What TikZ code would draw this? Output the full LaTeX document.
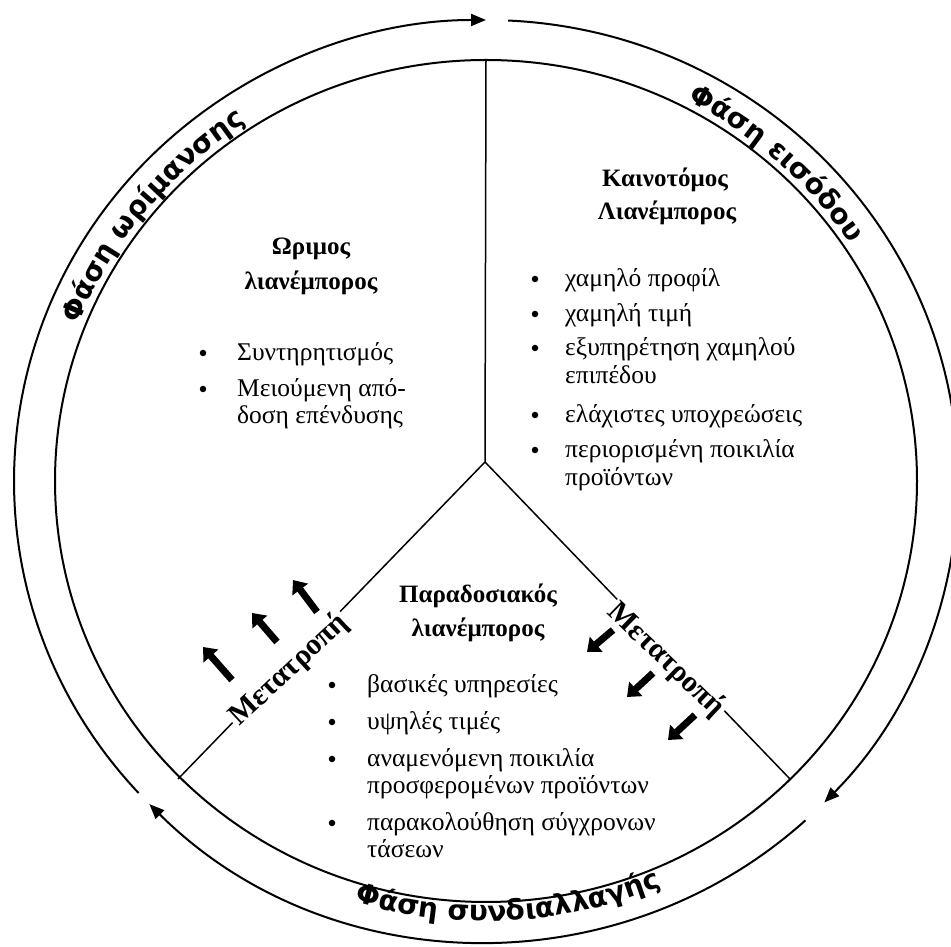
\documentclass[tikz,border=0pt]{standalone}
\usepackage{fontspec}
\setmainfont{Liberation Serif}
\newfontfamily\ringfont{DejaVu Sans}
\usetikzlibrary{arrows.meta,decorations.text}
\newcommand\ringstyle{\ringfont\bfseries\fontsize{28}{30}\selectfont}
\begin{document}
\begin{tikzpicture}[x=1pt,y=1pt,
  ring/.style={line width=2pt, -{Triangle[length=15pt,width=12pt]}},
  spoke/.style={line width=1.5pt},
  body/.style={font=\fontsize{25.5}{28}\selectfont, anchor=base west, inner sep=0pt},
  head/.style={font=\bfseries\fontsize{25}{28}\selectfont, anchor=base, inner sep=0pt},
  dot/.style={circle, fill=black, inner sep=0pt, minimum size=6.5pt},
  conv/.style={font=\bfseries\fontsize{30}{32}\selectfont, fill=white, inner sep=2pt},
  fat/.style={line width=7pt, -{Triangle[length=12pt,width=19pt]}},
  ringtext/.style={decorate, decoration={text along path, text align=center, text={|\ringstyle|#1}}}
]
\useasboundingbox (0,0) rectangle (951,947);
\coordinate (C) at (486,466);
\coordinate (M) at (485,485);
\coordinate (T) at (486,887);
\coordinate (LL) at (178,168);
\coordinate (LR) at (790,168);

% inner circle and spokes
\draw[line width=2pt] (C) ellipse [x radius=431pt, y radius=421pt];
\draw[spoke] (M) -- (T);
\draw[spoke] (M) -- (LL);
\draw[spoke] (M) -- (LR);

% outer ring arcs with arrows
\draw[ring] ([shift={(87.3:472pt and 461pt)}]C) arc[start angle=87.3, end angle=-44.2, x radius=472pt, y radius=461pt];
\draw[ring] ([shift={(-47.4:472pt and 461pt)}]C) arc[start angle=-47.4, end angle=-135.5, x radius=472pt, y radius=461pt];
\draw[ring] ([shift={(222.6:472pt and 461pt)}]C) arc[start angle=222.6, end angle=90, x radius=472pt, y radius=461pt];

% ring texts
\path[ringtext={Φάση εισόδου}] ([shift={(82:438pt and 428pt)}]C) arc[start angle=82, end angle=14, x radius=438pt, y radius=428pt];
\path[ringtext={Φάση ωρίμανσης}] ([shift={(175:438pt and 428pt)}]C) arc[start angle=175, end angle=107, x radius=438pt, y radius=428pt];
\path[ringtext={Φάση συνδιαλλαγής}] ([shift={(-121:451pt and 440pt)}]C) arc[start angle=-121, end angle=-53, x radius=451pt, y radius=440pt];

% top right block
\node[head] (kh1) at (665,760) {Καινοτόμος};
\node[head] (kh2) at (667,727) {Λιανέμπορος};
\node[body] (k1) at (565,660) {χαμηλό προφίλ};
\node[body] (k2) at (565,625) {χαμηλή τιμή};
\node[body] (k3) at (565,591) {εξυπηρέτηση χαμηλού};
\node[body] (k3b) at (565,563) {επιπέδου};
\node[body] (k4) at (565,524) {ελάχιστες υποχρεώσεις};
\node[body] (k5) at (565,489) {περιορισμένη ποικιλία};
\node[body] (k5b) at (565,461) {προϊόντων};
\node[dot] (kb1) at (535,668) {};
\node[dot] (kb2) at (535,633) {};
\node[dot] (kb3) at (535,599) {};
\node[dot] (kb4) at (535,532) {};
\node[dot] (kb5) at (535,497) {};

% top left block
\node[head] (wh1) at (311,692) {Ωριμος};
\node[head] (wh2) at (311,657) {λιανέμπορος};
\node[body] (w1) at (237,586) {Συντηρητισμός};
\node[body] (w2) at (237,550) {Μειούμενη από-};
\node[body] (w2b) at (237,523) {δοση επένδυσης};
\node[dot] (wb1) at (203,594) {};
\node[dot] (wb2) at (203,558) {};

% bottom block
\node[head] (ph1) at (478,344) {Παραδοσιακός};
\node[head] (ph2) at (478,310) {λιανέμπορος};
\node[body] (p1) at (367,254) {βασικές υπηρεσίες};
\node[body] (p2) at (367,217) {υψηλές τιμές};
\node[body] (p3) at (367,180) {αναμενόμενη ποικιλία};
\node[body] (p3b) at (367,153) {προσφερομένων προϊόντων};
\node[body] (p4) at (367,116) {παρακολούθηση σύγχρονων};
\node[body] (p4b) at (367,89) {τάσεων};
\node[dot] (pb1) at (332,262) {};
\node[dot] (pb2) at (332,225) {};
\node[dot] (pb3) at (332,188) {};
\node[dot] (pb4) at (332,124) {};

% conversion labels
\node[conv, rotate=43] (mL) at (289,277) {Μετατροπή};
\node[conv, rotate=-44] (mR) at (666,287) {Μετατροπή};

% fat arrows left
\coordinate (la1) at (232,267); \coordinate (lb1) at (203,300);
\coordinate (la2) at (277,305); \coordinate (lb2) at (252,334);
\coordinate (la3) at (317,335); \coordinate (lb3) at (293,367);
\draw[fat] (la1) -- (lb1);
\draw[fat] (la2) -- (lb2);
\draw[fat] (la3) -- (lb3);
% fat arrows right
\coordinate (ra1) at (613,317); \coordinate (rb1) at (587,295);
\coordinate (ra2) at (653,274); \coordinate (rb2) at (627,250);
\coordinate (ra3) at (695,232); \coordinate (rb3) at (668,207);
\draw[fat] (ra1) -- (rb1);
\draw[fat] (ra2) -- (rb2);
\draw[fat] (ra3) -- (rb3);
\end{tikzpicture}
\end{document}
